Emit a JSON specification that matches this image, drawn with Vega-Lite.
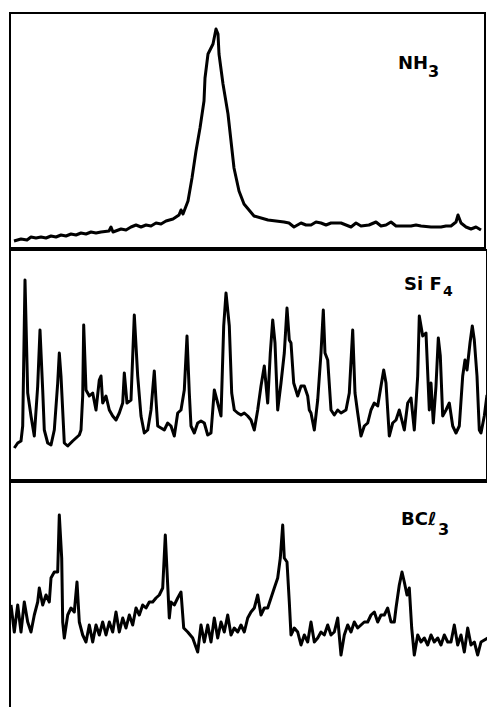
{
  "$schema": "https://vega.github.io/schema/vega-lite/v6.json",
  "padding": {"left": 9, "top": 12, "right": 0, "bottom": 0},
  "spacing": 0,
  "background": "white",
  "config": {"view": {"stroke": "black", "strokeWidth": 2}},
  "datasets": {
    "nh3": [
      {"x":13,"y":7},{"x":20,"y":9},{"x":26,"y":8},{"x":30,"y":11},{"x":35,"y":10},{"x":40,"y":11},{"x":45,"y":10},{"x":50,"y":12},{"x":55,"y":11},{"x":60,"y":13},{"x":65,"y":12},{"x":70,"y":14},{"x":75,"y":13},{"x":80,"y":15},{"x":85,"y":14},{"x":90,"y":16},{"x":95,"y":15},{"x":100,"y":16},{"x":108,"y":17},{"x":110,"y":21},{"x":112,"y":16},{"x":120,"y":19},{"x":125,"y":18},{"x":130,"y":21},{"x":135,"y":23},{"x":140,"y":21},{"x":145,"y":23},{"x":150,"y":22},{"x":155,"y":25},{"x":160,"y":24},{"x":165,"y":27},{"x":172,"y":29},{"x":178,"y":33},{"x":180,"y":38},{"x":182,"y":34},{"x":187,"y":47},{"x":191,"y":70},{"x":195,"y":97},{"x":199,"y":120},{"x":203,"y":147},{"x":204,"y":170},{"x":207,"y":194},{"x":212,"y":204},{"x":215,"y":219},{"x":217,"y":214},{"x":218,"y":194},{"x":222,"y":164},{"x":227,"y":134},{"x":230,"y":107},{"x":233,"y":80},{"x":238,"y":57},{"x":243,"y":44},{"x":253,"y":32},{"x":267,"y":28},{"x":283,"y":26},{"x":288,"y":25},{"x":293,"y":21},{"x":300,"y":25},{"x":305,"y":23},{"x":310,"y":23},{"x":315,"y":26},{"x":320,"y":25},{"x":325,"y":23},{"x":330,"y":25},{"x":340,"y":25},{"x":345,"y":23},{"x":350,"y":21},{"x":355,"y":25},{"x":360,"y":22},{"x":368,"y":23},{"x":375,"y":26},{"x":380,"y":22},{"x":385,"y":23},{"x":390,"y":26},{"x":395,"y":22},{"x":400,"y":22},{"x":410,"y":22},{"x":415,"y":23},{"x":420,"y":22},{"x":430,"y":21},{"x":440,"y":21},{"x":445,"y":22},{"x":450,"y":22},{"x":455,"y":26},{"x":457,"y":33},{"x":460,"y":25},{"x":465,"y":21},{"x":470,"y":19},{"x":475,"y":21},{"x":480,"y":18}
    ],
    "sif4": [
      {"x":13.3,"y":32},{"x":16.7,"y":37},{"x":20,"y":39},{"x":21.7,"y":54},{"x":24,"y":200},{"x":26.7,"y":87},{"x":30,"y":64},{"x":33.3,"y":44},{"x":36.7,"y":94},{"x":39,"y":150},{"x":41.7,"y":90},{"x":43.3,"y":50},{"x":46.7,"y":37},{"x":50,"y":35},{"x":53.3,"y":50},{"x":56.7,"y":97},{"x":58.3,"y":127},{"x":60,"y":104},{"x":63.3,"y":37},{"x":66.7,"y":34},{"x":71.7,"y":39},{"x":78.3,"y":45},{"x":80,"y":50},{"x":81.7,"y":84},{"x":82.7,"y":155},{"x":85,"y":90},{"x":88.3,"y":84},{"x":91.7,"y":87},{"x":95,"y":70},{"x":98.3,"y":100},{"x":100,"y":104},{"x":101.7,"y":77},{"x":105,"y":84},{"x":108.3,"y":70},{"x":111.7,"y":64},{"x":115,"y":60},{"x":118.3,"y":67},{"x":121.7,"y":77},{"x":123.3,"y":107},{"x":126,"y":77},{"x":130,"y":80},{"x":133.3,"y":165},{"x":136.7,"y":104},{"x":140,"y":64},{"x":143.3,"y":47},{"x":146.7,"y":50},{"x":150,"y":70},{"x":153.3,"y":109},{"x":155,"y":80},{"x":156.7,"y":54},{"x":160,"y":52},{"x":163.3,"y":50},{"x":166.7,"y":57},{"x":170,"y":54},{"x":173.3,"y":44},{"x":176.7,"y":67},{"x":180,"y":70},{"x":183.3,"y":90},{"x":186,"y":144},{"x":188.3,"y":87},{"x":190,"y":54},{"x":193.3,"y":47},{"x":196.7,"y":57},{"x":200,"y":59},{"x":203.3,"y":57},{"x":206.7,"y":45},{"x":210,"y":47},{"x":213.3,"y":90},{"x":216.7,"y":77},{"x":220,"y":64},{"x":222.7,"y":154},{"x":225,"y":187},{"x":228.3,"y":154},{"x":230.7,"y":87},{"x":233.3,"y":70},{"x":236.7,"y":67},{"x":240,"y":65},{"x":243.3,"y":67},{"x":246.7,"y":64},{"x":250,"y":60},{"x":253.3,"y":50},{"x":256.7,"y":70},{"x":260,"y":94},{"x":263.3,"y":114},{"x":266.7,"y":77},{"x":269.3,"y":127},{"x":271.7,"y":160},{"x":274,"y":137},{"x":276.7,"y":70},{"x":280,"y":97},{"x":283.3,"y":127},{"x":286,"y":172},{"x":288.3,"y":140},{"x":290,"y":137},{"x":292.7,"y":97},{"x":296.7,"y":84},{"x":300,"y":94},{"x":303.3,"y":94},{"x":306.7,"y":84},{"x":308.3,"y":70},{"x":310,"y":67},{"x":313.3,"y":50},{"x":316.7,"y":80},{"x":320,"y":127},{"x":322.3,"y":170},{"x":324,"y":127},{"x":326.7,"y":120},{"x":330,"y":70},{"x":333.3,"y":65},{"x":336.7,"y":70},{"x":340,"y":67},{"x":345,"y":70},{"x":348.3,"y":87},{"x":351.7,"y":150},{"x":354,"y":87},{"x":356.7,"y":67},{"x":360,"y":44},{"x":363.3,"y":54},{"x":366.7,"y":57},{"x":370,"y":70},{"x":373.3,"y":77},{"x":376.7,"y":74},{"x":380,"y":94},{"x":382.7,"y":110},{"x":385,"y":97},{"x":388.3,"y":44},{"x":391.7,"y":57},{"x":395,"y":60},{"x":398.3,"y":70},{"x":403.3,"y":50},{"x":406.7,"y":77},{"x":410,"y":82},{"x":413.3,"y":50},{"x":416.7,"y":104},{"x":418.3,"y":164},{"x":421.7,"y":144},{"x":425,"y":147},{"x":428.3,"y":70},{"x":430,"y":97},{"x":432.3,"y":57},{"x":435,"y":94},{"x":437.3,"y":142},{"x":439.3,"y":124},{"x":441.7,"y":64},{"x":445,"y":70},{"x":448.3,"y":77},{"x":451.7,"y":54},{"x":455,"y":47},{"x":458.3,"y":54},{"x":461.7,"y":104},{"x":464,"y":120},{"x":466,"y":110},{"x":469,"y":137},{"x":471.3,"y":154},{"x":473.3,"y":140},{"x":476,"y":104},{"x":478.3,"y":50},{"x":480,"y":47},{"x":483.3,"y":64},{"x":486,"y":85}
    ],
    "bcl3": [
      {"x":10,"y":109},{"x":13.3,"y":82},{"x":16.7,"y":109},{"x":20,"y":82},{"x":23.3,"y":112},{"x":26.7,"y":92},{"x":30,"y":82},{"x":33.3,"y":99},{"x":36.7,"y":112},{"x":38.3,"y":126},{"x":41.7,"y":109},{"x":45,"y":119},{"x":48.3,"y":112},{"x":50,"y":136},{"x":53.3,"y":142},{"x":56.7,"y":142},{"x":58.3,"y":199},{"x":60.7,"y":156},{"x":61.7,"y":92},{"x":63.3,"y":76},{"x":66.7,"y":99},{"x":70,"y":106},{"x":73.3,"y":102},{"x":76,"y":132},{"x":78.3,"y":92},{"x":81.7,"y":79},{"x":85,"y":72},{"x":88.3,"y":89},{"x":91.7,"y":72},{"x":95,"y":89},{"x":98.3,"y":79},{"x":101.7,"y":92},{"x":105,"y":79},{"x":108.3,"y":92},{"x":111.7,"y":82},{"x":115,"y":102},{"x":118.3,"y":82},{"x":121.7,"y":96},{"x":125,"y":86},{"x":128.3,"y":99},{"x":131.7,"y":89},{"x":135,"y":106},{"x":138.3,"y":99},{"x":141.7,"y":109},{"x":145,"y":106},{"x":148.3,"y":112},{"x":151.7,"y":112},{"x":155,"y":116},{"x":158.3,"y":119},{"x":161.7,"y":126},{"x":164.3,"y":179},{"x":166.7,"y":129},{"x":168.3,"y":96},{"x":170,"y":112},{"x":173.3,"y":109},{"x":176.7,"y":116},{"x":180,"y":122},{"x":182.7,"y":86},{"x":186.7,"y":82},{"x":191.7,"y":76},{"x":196.7,"y":62},{"x":200,"y":89},{"x":203.3,"y":72},{"x":206.7,"y":89},{"x":210,"y":72},{"x":213.3,"y":96},{"x":216.7,"y":76},{"x":220,"y":92},{"x":223.3,"y":82},{"x":226.7,"y":99},{"x":230,"y":79},{"x":233.3,"y":86},{"x":236.7,"y":82},{"x":240,"y":89},{"x":243.3,"y":82},{"x":246.7,"y":96},{"x":250,"y":102},{"x":253.3,"y":106},{"x":256.7,"y":119},{"x":260,"y":99},{"x":263.3,"y":106},{"x":266.7,"y":106},{"x":270,"y":116},{"x":273.3,"y":126},{"x":276.7,"y":136},{"x":279.3,"y":156},{"x":281.7,"y":189},{"x":283.3,"y":156},{"x":286,"y":152},{"x":288.3,"y":112},{"x":290,"y":79},{"x":293.3,"y":86},{"x":296.7,"y":82},{"x":300,"y":69},{"x":303.3,"y":79},{"x":306.7,"y":72},{"x":310,"y":92},{"x":313.3,"y":72},{"x":316.7,"y":76},{"x":320,"y":82},{"x":323.3,"y":79},{"x":326.7,"y":89},{"x":330,"y":79},{"x":333.3,"y":82},{"x":336.7,"y":96},{"x":340,"y":59},{"x":343.3,"y":79},{"x":346.7,"y":89},{"x":350,"y":82},{"x":353.3,"y":92},{"x":356.7,"y":86},{"x":360,"y":89},{"x":363.3,"y":92},{"x":366.7,"y":92},{"x":370,"y":99},{"x":373.3,"y":102},{"x":376.7,"y":92},{"x":380,"y":99},{"x":383.3,"y":99},{"x":386.7,"y":106},{"x":390,"y":92},{"x":393.3,"y":92},{"x":395,"y":106},{"x":398.3,"y":129},{"x":401,"y":142},{"x":403.3,"y":132},{"x":406,"y":119},{"x":408.3,"y":126},{"x":410.7,"y":86},{"x":413.3,"y":59},{"x":416.7,"y":79},{"x":420,"y":72},{"x":423.3,"y":76},{"x":426.7,"y":69},{"x":430,"y":79},{"x":433.3,"y":72},{"x":436.7,"y":76},{"x":440,"y":69},{"x":443.3,"y":79},{"x":446.7,"y":72},{"x":450,"y":72},{"x":453.3,"y":89},{"x":456.7,"y":69},{"x":460,"y":79},{"x":463.3,"y":62},{"x":466.7,"y":86},{"x":470,"y":69},{"x":473.3,"y":72},{"x":476.7,"y":59},{"x":480,"y":72},{"x":487,"y":76}
    ]
  },
  "vconcat": [
    {
      "width": 475, "height": 235,
      "encoding": {
        "x": {"field": "x", "type": "quantitative", "scale": {"domain": [9, 484], "nice": false, "zero": false}, "axis": null},
        "y": {"field": "y", "type": "quantitative", "scale": {"domain": [0, 235], "nice": false}, "axis": null}
      },
      "layer": [
        {
          "data": {"name": "nh3"},
          "mark": {"type": "line", "color": "black", "strokeWidth": 3, "strokeJoin": "round", "clip": true}
        },
        {
          "data": {"values": [{"x": 397, "y": 179, "label": "NH"}]},
          "mark": {"type": "text", "align": "left", "baseline": "alphabetic", "font": "DejaVu Sans", "fontWeight": "bold", "fontSize": 18, "color": "black"},
          "encoding": {"text": {"field": "label"}}
        },
        {
          "data": {"values": [{"x": 427, "y": 171, "label": "3"}]},
          "mark": {"type": "text", "align": "left", "baseline": "alphabetic", "font": "DejaVu Sans", "fontWeight": "bold", "fontSize": 16, "color": "black"},
          "encoding": {"text": {"field": "label"}}
        }
      ]
    },
    {
      "width": 477, "height": 230,
      "encoding": {
        "x": {"field": "x", "type": "quantitative", "scale": {"domain": [9, 486], "nice": false, "zero": false}, "axis": null},
        "y": {"field": "y", "type": "quantitative", "scale": {"domain": [0, 230], "nice": false}, "axis": null}
      },
      "layer": [
        {
          "data": {"name": "sif4"},
          "mark": {"type": "line", "color": "black", "strokeWidth": 3, "strokeJoin": "round", "clip": true}
        },
        {
          "data": {"values": [{"x": 403, "y": 190, "label": "Si F"}]},
          "mark": {"type": "text", "align": "left", "baseline": "alphabetic", "font": "DejaVu Sans", "fontWeight": "bold", "fontSize": 18, "color": "black"},
          "encoding": {"text": {"field": "label"}}
        },
        {
          "data": {"values": [{"x": 442, "y": 184, "label": "4"}]},
          "mark": {"type": "text", "align": "left", "baseline": "alphabetic", "font": "DejaVu Sans", "fontWeight": "bold", "fontSize": 14, "color": "black"},
          "encoding": {"text": {"field": "label"}}
        }
      ]
    },
    {
      "width": 481, "height": 232,
      "encoding": {
        "x": {"field": "x", "type": "quantitative", "scale": {"domain": [9, 490], "nice": false, "zero": false}, "axis": null},
        "y": {"field": "y", "type": "quantitative", "scale": {"domain": [0, 232], "nice": false}, "axis": null}
      },
      "layer": [
        {
          "data": {"name": "bcl3"},
          "mark": {"type": "line", "color": "black", "strokeWidth": 3, "strokeJoin": "round", "clip": true}
        },
        {
          "data": {"values": [{"x": 400, "y": 189, "label": "BCℓ"}]},
          "mark": {"type": "text", "align": "left", "baseline": "alphabetic", "font": "DejaVu Sans", "fontWeight": "bold", "fontSize": 18, "color": "black"},
          "encoding": {"text": {"field": "label"}}
        },
        {
          "data": {"values": [{"x": 437, "y": 179, "label": "3"}]},
          "mark": {"type": "text", "align": "left", "baseline": "alphabetic", "font": "DejaVu Sans", "fontWeight": "bold", "fontSize": 16, "color": "black"},
          "encoding": {"text": {"field": "label"}}
        }
      ]
    }
  ]
}
